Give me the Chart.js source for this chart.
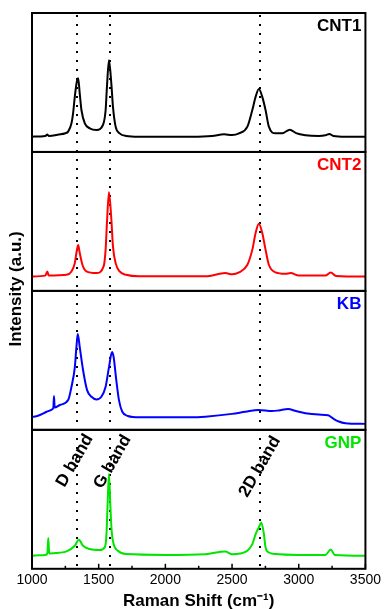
<!DOCTYPE html>
<html>
<head>
<meta charset="utf-8">
<script src="https://cdn.jsdelivr.net/npm/chart.js@4"></script>
<style>
  html, body { margin: 0; padding: 0; background: #fff; }
  #wrap { width: 384px; height: 609px; }
</style>
</head>
<body>
<div id="wrap"><canvas id="ramanChart" width="384" height="609"></canvas></div>
<script>
// Raman spectra, intensity as % of each panel's height
const cnt1Shift = [1000, 1100, 1115, 1125, 1200, 1250, 1271, 1296, 1308, 1321, 1335, 1346, 1358, 1371, 1396, 1433, 1483, 1532, 1552, 1562, 1577, 1595, 1607, 1627, 1657, 1706, 1800, 2000, 2200, 2350, 2440, 2500, 2552, 2615, 2652, 2677, 2701, 2726, 2751, 2776, 2826, 2876, 2933, 2980, 3050, 3150, 3200, 3230, 3260, 3350, 3500];
const cnt1Int   = [11, 11.5, 12.5, 11.5, 12.5, 13.5, 14.6, 20.6, 27.8, 39.8, 50, 53, 42, 30, 20.6, 17, 15.8, 19.4, 30, 47, 66, 49, 32.6, 18.2, 13.4, 11.5, 11, 11, 11, 11.5, 12.7, 12.2, 13.4, 18.2, 30.2, 39.8, 45.3, 39.8, 30.2, 18.2, 13.4, 13.5, 16, 13.5, 12, 11.5, 12, 13, 11.5, 11, 11];

const cnt2Shift = [1000, 1100, 1115, 1125, 1200, 1259, 1296, 1321, 1333, 1346, 1358, 1378, 1408, 1483, 1537, 1552, 1562, 1577, 1595, 1607, 1627, 1657, 1706, 1800, 2000, 2300, 2450, 2500, 2552, 2615, 2652, 2677, 2701, 2726, 2751, 2776, 2826, 2900, 2940, 3000, 3200, 3240, 3280, 3500];
const cnt2Int   = [10.4, 11, 14, 11, 11.3, 11.6, 14, 20, 27.3, 33, 27.3, 18.8, 14, 12.8, 17.6, 29.7, 49, 71, 51.4, 32, 20, 14, 11.6, 10.5, 10.5, 10.5, 12.8, 12, 13.3, 18.8, 29.7, 41.8, 48.3, 41.8, 29.7, 18.8, 13.3, 12.3, 12.8, 11, 11, 13.3, 10.8, 10.4];

const kbShift = [1000, 1010, 1110, 1155, 1160, 1165, 1170, 1209, 1271, 1296, 1321, 1333, 1343, 1358, 1383, 1413, 1446, 1483, 1520, 1552, 1577, 1600, 1612, 1632, 1652, 1677, 1719, 1806, 2000, 2200, 2300, 2500, 2600, 2700, 2800, 2850, 2920, 2980, 3050, 3150, 3220, 3260, 3300, 3350, 3500];
const kbInt   = [9.5, 9.5, 13, 15, 16, 24.3, 16, 17.9, 21.4, 31, 45, 59.5, 69, 59.5, 42.9, 28.6, 23.8, 21.9, 23.8, 31, 45, 56, 52.4, 35.7, 21.4, 13, 10, 9, 9, 9, 9.5, 11.5, 13, 14.3, 13.5, 14, 15, 13.5, 12, 11, 10.5, 8, 6, 4.8, 4.3];

const gnpShift = [1000, 1100, 1115, 1122, 1129, 1200, 1259, 1321, 1351, 1383, 1433, 1507, 1545, 1557, 1567, 1577, 1587, 1597, 1612, 1644, 1706, 2000, 2300, 2450, 2500, 2560, 2615, 2652, 2677, 2701, 2719, 2739, 2751, 2776, 2826, 3000, 3200, 3240, 3270, 3500];
const gnpInt   = [9.4, 10, 11, 22.1, 11, 11.5, 12.5, 16.6, 20.9, 16.6, 14.2, 13.5, 15.4, 22.6, 46.6, 68.3, 46.6, 27.4, 17.8, 13, 10.6, 10, 10.5, 12.5, 10.5, 11, 13, 17.8, 25, 29.8, 33.4, 25, 15.4, 11.7, 10.6, 10, 10, 13.8, 10, 9.4];

const panelNames  = ['CNT1', 'CNT2', 'KB', 'GNP'];
const panelColors = ['#000000', '#ff0000', '#0000ff', '#00e600'];
const bandShifts  = [1338, 1584, 2711];
const bandLabels  = ['D band', 'G band', '2D band'];
const bandLabelPos = [[1321, 77.8], [1604, 77], [2709, 73.5]];
const xTicks = [1000, 1250, 1500, 1750, 2000, 2250, 2500, 2750, 3000, 3250, 3500];

const panelAxes = ['y1', 'y2', 'y3', 'y4'];

function toPoints(xs, ys) {
  return xs.map((x, i) => ({ x: x, y: ys[i] }));
}

const seriesData = [
  toPoints(cnt1Shift, cnt1Int),
  toPoints(cnt2Shift, cnt2Int),
  toPoints(kbShift, kbInt),
  toPoints(gnpShift, gnpInt)
];

const framePlugin = {
  id: 'frame',
  beforeDatasetsDraw(chart) {
    const ctx = chart.ctx;
    const area = chart.chartArea;
    const x = chart.scales.x;
    // dotted band lines
    ctx.save();
    ctx.strokeStyle = '#000';
    ctx.lineWidth = 2;
    ctx.setLineDash([2, 7]);
    bandShifts.forEach(s => {
      const px = Math.round(x.getPixelForValue(s));
      ctx.beginPath();
      ctx.moveTo(px, area.top + 2);
      ctx.lineTo(px, area.bottom);
      ctx.stroke();
    });
    ctx.restore();
  },
  afterDraw(chart) {
    const ctx = chart.ctx;
    const area = chart.chartArea;
    const x = chart.scales.x;
    ctx.save();
    ctx.strokeStyle = '#000';
    ctx.lineWidth = 2;
    panelAxes.forEach((id, i) => {
      const s = chart.scales[id];
      ctx.strokeRect(area.left, s.top, area.right - area.left, s.bottom - s.top);
      ctx.fillStyle = panelColors[i];
      ctx.font = 'bold 17px "Liberation Sans", Arial, sans-serif';
      ctx.textAlign = 'right';
      ctx.textBaseline = 'alphabetic';
      ctx.fillText(panelNames[i], area.right - 4, s.top + 18);
    });
    // inward ticks on the bottom axis
    ctx.lineWidth = 1.5;
    xTicks.forEach(t => {
      const px = x.getPixelForValue(t);
      const len = t % 500 === 0 ? 5 : 3;
      ctx.beginPath();
      ctx.moveTo(px, area.bottom);
      ctx.lineTo(px, area.bottom - len);
      ctx.stroke();
    });
    // band labels
    const g = chart.scales.y4;
    ctx.fillStyle = '#000';
    ctx.font = 'bold 17px "Liberation Sans", Arial, sans-serif';
    ctx.textAlign = 'center';
    ctx.textBaseline = 'middle';
    bandLabels.forEach((lab, i) => {
      ctx.save();
      ctx.translate(x.getPixelForValue(bandLabelPos[i][0]), g.getPixelForValue(bandLabelPos[i][1]));
      ctx.rotate(-Math.PI / 3);
      ctx.fillText(lab, 0, 0);
      ctx.restore();
    });
    // y title
    ctx.save();
    ctx.translate(16, (area.top + area.bottom) / 2 - 2);
    ctx.rotate(-Math.PI / 2);
    ctx.font = 'bold 17px "Liberation Sans", Arial, sans-serif';
    ctx.fillText('Intensity (a.u.)', 0, 0);
    ctx.restore();
    ctx.restore();
  }
};

function panelAxis() {
  return {
    type: 'linear',
    position: 'left',
    stack: 'panels',
    stackWeight: 1,
    min: 0,
    max: 100,
    display: false
  };
}

new Chart(document.getElementById('ramanChart'), {
  type: 'line',
  data: {
    datasets: seriesData.map((pts, i) => ({
      label: panelNames[i],
      data: pts,
      yAxisID: panelAxes[i],
      borderColor: panelColors[i],
      borderWidth: 2,
      pointRadius: 0,
      cubicInterpolationMode: 'monotone',
      fill: false
    }))
  },
  options: {
    responsive: false,
    animation: false,
    layout: { padding: { left: 32, right: 17, top: 13, bottom: -3 } },
    plugins: { legend: { display: false }, tooltip: { enabled: false } },
    scales: {
      x: {
        type: 'linear',
        min: 1000,
        max: 3500,
        grid: { display: false, drawTicks: false, tickLength: 0 },
        border: { display: false },
        ticks: {
          stepSize: 500,
          padding: 3,
          maxRotation: 0,
          autoSkip: false,
          color: '#000',
          font: { family: '"Liberation Sans", Arial, sans-serif', size: 14 },
          callback: v => String(v)
        },
        title: {
          display: true,
          text: 'Raman Shift (cm⁻¹)',
          color: '#000',
          padding: { top: 0, bottom: 0 },
          font: { family: '"Liberation Sans", Arial, sans-serif', size: 17, weight: 'bold' }
        }
      },
      // listed bottom-to-top: last one sits on top of the stack
      y4: panelAxis(),
      y3: panelAxis(),
      y2: panelAxis(),
      y1: panelAxis()
    }
  },
  plugins: [framePlugin]
});
</script>
</body>
</html>
